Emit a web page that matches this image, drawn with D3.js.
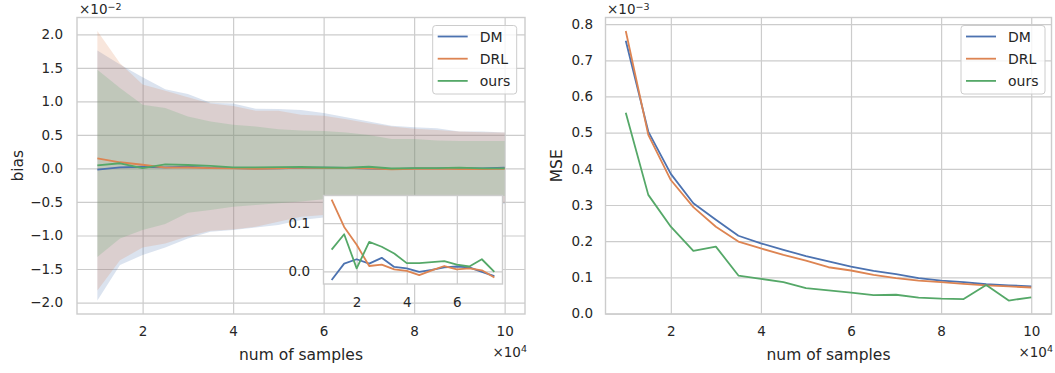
<!DOCTYPE html>
<html>
<head>
<meta charset="utf-8">
<script src="https://cdn.jsdelivr.net/npm/d3@7"></script>
<style>
  body { margin: 0; background: #fff; }
  text { font-family: "DejaVu Sans", sans-serif; fill: #262626; }
</style>
</head>
<body>
<svg id="chart" width="1055" height="373"></svg>
<script>
// num of samples (x 1e4)
var samples = [1, 1.5, 2, 2.5, 3, 3.5, 4, 4.5, 5, 5.5, 6, 6.5, 7, 7.5, 8, 8.5, 9, 9.5, 10];
var names = ["DM", "DRL", "ours"];
var colors = ["#4c72b0", "#dd8452", "#55a868"];

// bias (x 1e-2)
var biasDM   = [-0.018, 0.016, 0.025, 0.016, 0.028, 0.009, 0.006, -0.001, 0.003, 0.008, 0.010, 0.008, -0.001, -0.010, 0.000, 0.002, 0.003, 0.000, 0.012];
var biasDRL  = [0.149, 0.092, 0.055, 0.011, 0.014, 0.004, 0.001, -0.008, 0.002, 0.011, 0.004, 0.006, 0.002, -0.013, -0.005, -0.003, -0.010, -0.010, -0.005];
var biasOurs = [0.045, 0.077, 0.006, 0.061, 0.051, 0.037, 0.017, 0.017, 0.019, 0.021, 0.014, 0.010, 0.025, -0.001, 0.005, 0.005, 0.012, 0.000, 0.002];

// shaded spread of the bias (x 1e-2)
var dmHi   = [1.76, 1.55, 1.36, 1.18, 1.11, 0.98, 0.97, 0.89, 0.885, 0.87, 0.825, 0.765, 0.70, 0.635, 0.615, 0.60, 0.55, 0.55, 0.535];
var dmLo   = [-1.97, -1.44, -1.29, -1.18, -1.045, -0.945, -0.92, -0.88, -0.845, -0.77, -0.73, -0.72, -0.68, -0.62, -0.60, -0.58, -0.55, -0.54, -0.53];
var drlHi  = [2.05, 1.57, 1.25, 1.16, 1.06, 0.97, 0.93, 0.86, 0.86, 0.80, 0.785, 0.735, 0.675, 0.625, 0.59, 0.575, 0.55, 0.54, 0.535];
var drlLo  = [-1.82, -1.37, -1.18, -1.12, -1.01, -0.93, -0.91, -0.87, -0.795, -0.72, -0.695, -0.68, -0.64, -0.60, -0.57, -0.55, -0.53, -0.52, -0.51];
var oursHi = [1.47, 1.20, 0.95, 0.90, 0.775, 0.70, 0.65, 0.625, 0.585, 0.565, 0.56, 0.535, 0.50, 0.44, 0.44, 0.415, 0.41, 0.41, 0.41];
var oursLo = [-1.32, -1.045, -0.92, -0.83, -0.66, -0.62, -0.57, -0.545, -0.52, -0.495, -0.46, -0.45, -0.44, -0.43, -0.42, -0.41, -0.41, -0.41, -0.41];

// MSE (x 1e-3)
var mseDM   = [0.754, 0.503, 0.386, 0.305, 0.259, 0.215, 0.194, 0.176, 0.159, 0.144, 0.130, 0.118, 0.109, 0.098, 0.091, 0.087, 0.081, 0.078, 0.075];
var mseDRL  = [0.781, 0.494, 0.369, 0.294, 0.240, 0.199, 0.180, 0.162, 0.146, 0.128, 0.119, 0.107, 0.098, 0.091, 0.087, 0.082, 0.078, 0.075, 0.072];
var mseOurs = [0.555, 0.328, 0.240, 0.173, 0.185, 0.105, 0.096, 0.087, 0.070, 0.064, 0.058, 0.051, 0.052, 0.044, 0.041, 0.040, 0.079, 0.036, 0.045];

var xTicks = [2, 4, 6, 8, 10];
var biasTicks = [-2, -1.5, -1, -0.5, 0, 0.5, 1, 1.5, 2];
var mseTicks = [0, 0.1, 0.2, 0.3, 0.4, 0.5, 0.6, 0.7, 0.8];
var insetXTicks = [2, 4, 6];
var insetYTicks = [0, 0.1];
var insetCount = 14; // the inset shows the first points only

var svg = d3.select("#chart");
var grid = "#cccccc";

// matplotlib style 5% margins
function padded(vals) {
  var e = d3.extent(vals), p = (e[1] - e[0]) * 0.05;
  return [e[0] - p, e[1] + p];
}

function pts(xs, ys) {
  return xs.map(function (d, i) { return { x: d, y: ys[i] }; });
}

// one set of axes: background, grid and tick labels
function panel(left, top, w, h, xDom, yDom, xt, yt, xPad, yPad, fs) {
  var g = svg.append("g").attr("transform", "translate(" + left + "," + top + ")");
  var x = d3.scaleLinear().domain(xDom).range([0, w]);
  var y = d3.scaleLinear().domain(yDom).range([h, 0]);
  g.append("rect").attr("width", w).attr("height", h).attr("fill", "#fff");

  var gx = g.append("g").attr("transform", "translate(0," + h + ")")
    .call(d3.axisBottom(x).tickValues(xt).tickSize(-h).tickPadding(xPad).tickFormat(d3.format("d")));
  var gy = g.append("g")
    .call(d3.axisLeft(y).tickValues(yt).tickSize(-w).tickPadding(yPad).tickFormat(d3.format(".1f")));
  [gx, gy].forEach(function (a) {
    a.select(".domain").remove();
    a.selectAll("line").attr("stroke", grid).attr("stroke-width", 1.2);
    a.selectAll("text").style("font-size", fs + "px").attr("fill", "#262626");
  });
  return { g: g, x: x, y: y, w: w, h: h };
}

function frame(p) {
  p.g.append("rect").attr("width", p.w).attr("height", p.h)
    .attr("fill", "none").attr("stroke", grid).attr("stroke-width", 1.4);
}

function drawLines(p, series, xs) {
  var line = d3.line().x(function (d) { return p.x(d.x); }).y(function (d) { return p.y(d.y); });
  series.forEach(function (s, i) {
    p.g.append("path").datum(pts(xs, s))
      .attr("d", line).attr("fill", "none")
      .attr("stroke", colors[i]).attr("stroke-width", 1.8)
      .attr("stroke-linejoin", "round");
  });
}

function legend(p, right) {
  var lg = p.g.append("g").attr("transform", "translate(" + (p.w - right - 84) + ",8)");
  lg.append("rect").attr("width", 84).attr("height", 68.5).attr("rx", 3)
    .attr("fill", "#fff").attr("fill-opacity", 0.8).attr("stroke", grid);
  names.forEach(function (n, i) {
    var yy = 11 + i * 22.2;
    lg.append("line").attr("x1", 5).attr("x2", 35).attr("y1", yy).attr("y2", yy)
      .attr("stroke", colors[i]).attr("stroke-width", 1.8);
    lg.append("text").attr("x", 47).attr("y", yy).attr("dy", "0.36em")
      .style("font-size", "14px").text(n);
  });
}

function offsetText(x, y, exp, anchor) {
  var t = svg.append("text").attr("x", x).attr("y", y).attr("text-anchor", anchor)
    .style("font-size", "13.5px");
  t.append("tspan").text("\u00d710");
  t.append("tspan").attr("dy", "-0.45em").style("font-size", "9.5px").text(exp);
}

function labels(p, left, xText, yText, yx) {
  svg.append("text").attr("x", left + p.w / 2).attr("y", 360).attr("text-anchor", "middle")
    .style("font-size", "15.5px").text(xText);
  svg.append("text").attr("transform", "translate(" + yx + "," + (17.5 + p.h / 2) + ") rotate(-90)")
    .attr("text-anchor", "middle").style("font-size", "15.5px").text(yText);
}

// ---- left: bias
var allBand = dmHi.concat(dmLo, drlHi, drlLo, oursHi, oursLo);
var L = panel(77, 17.5, 448, 296.5, padded(samples), padded(allBand), xTicks, biasTicks, 12, 14, 13.5);

var bands = [[dmLo, dmHi], [drlLo, drlHi], [oursLo, oursHi]];
bands.forEach(function (b, i) {
  var area = d3.area()
    .x(function (d) { return L.x(d.x); })
    .y0(function (d) { return L.y(d.lo); })
    .y1(function (d) { return L.y(d.hi); });
  var rows = samples.map(function (s, k) { return { x: s, lo: b[0][k], hi: b[1][k] }; });
  L.g.append("path").datum(rows).attr("d", area)
    .attr("fill", colors[i]).attr("fill-opacity", 0.2);
});
drawLines(L, [biasDM, biasDRL, biasOurs], samples);
legend(L, 8.3);
frame(L);

// inset zoom on the bias lines
var inX = samples.slice(0, insetCount);
var inS = [biasDM, biasDRL, biasOurs].map(function (s) { return s.slice(0, insetCount); });
var I = panel(323.5, 195.5, 179, 88.5, padded(inX), padded(inS[0].concat(inS[1], inS[2])),
  insetXTicks, insetYTicks, 13.5, 13.5, 13.5);
drawLines(I, inS, inX);
frame(I);

labels(L, 77, "num of samples", "bias", 23);
offsetText(79, 14, "\u22122", "start");
offsetText(527, 356.5, "4", "end");

// ---- right: MSE
var R = panel(605.5, 17.5, 446, 296.5, padded(samples),
  padded(mseDM.concat(mseDRL, mseOurs)), xTicks, mseTicks, 12, 12.5, 13.5);
drawLines(R, [mseDM, mseDRL, mseOurs], samples);
legend(R, 6.5);
frame(R);

labels(R, 605.5, "num of samples", "MSE", 562);
offsetText(607, 14, "\u22123", "start");
offsetText(1053, 356.5, "4", "end");
</script>
</body>
</html>
